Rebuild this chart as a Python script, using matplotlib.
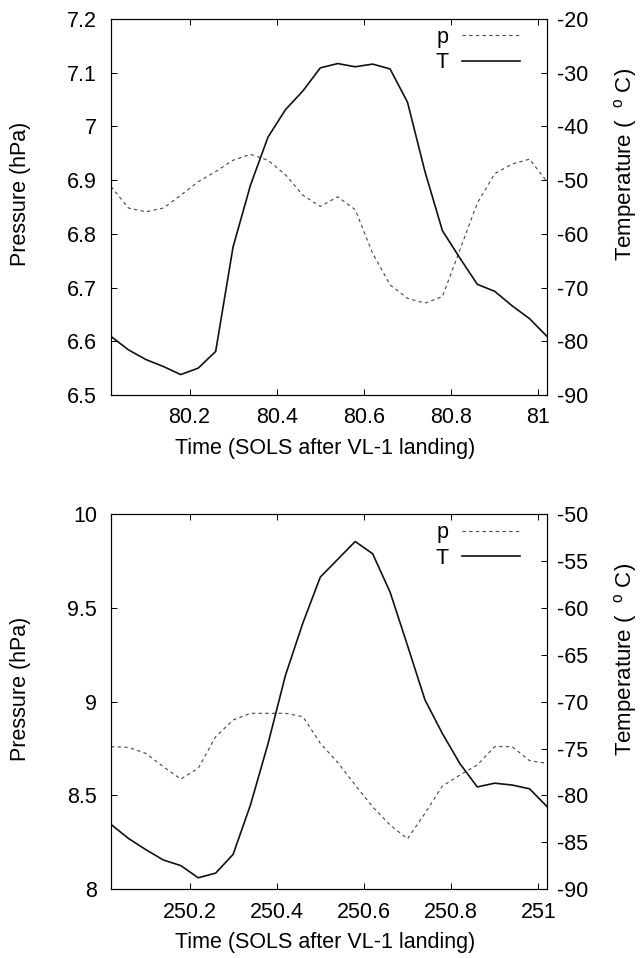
import numpy as np
import matplotlib
matplotlib.use("Agg")
import matplotlib.pyplot as plt
from matplotlib.ticker import FormatStrFormatter, FuncFormatter

plt.rcParams['font.family'] = ['Liberation Sans', 'DejaVu Sans']
plt.rcParams['mathtext.fontset'] = 'custom'
plt.rcParams['mathtext.rm'] = 'Liberation Sans'
plt.rcParams['mathtext.it'] = 'Liberation Sans'
plt.rcParams['axes.unicode_minus'] = False
plt.rcParams['font.size'] = 15.5

# sol 80 (top panel)
time_80 = [80.02, 80.06, 80.10, 80.14, 80.18, 80.22, 80.26, 80.30, 80.34, 80.38,
           80.42, 80.46, 80.50, 80.54, 80.58, 80.62, 80.66, 80.70, 80.74, 80.78,
           80.82, 80.86, 80.90, 80.94, 80.98, 81.02]
p_80 = [6.888, 6.848, 6.841, 6.848, 6.872, 6.897, 6.916, 6.937, 6.948, 6.937,
        6.910, 6.872, 6.851, 6.869, 6.845, 6.764, 6.705, 6.680, 6.671, 6.683,
        6.770, 6.857, 6.912, 6.930, 6.939, 6.897]
T_80 = [-79.1, -81.6, -83.4, -84.7, -86.2, -85.0, -81.9, -62.4, -50.9, -42.0,
        -36.9, -33.4, -29.1, -28.3, -28.9, -28.4, -29.3, -35.5, -48.4, -59.4,
        -64.5, -69.4, -70.7, -73.4, -75.8, -79.1]

# sol 250 (bottom panel)
time_250 = [250.02, 250.06, 250.10, 250.14, 250.18, 250.22, 250.26, 250.30, 250.34, 250.38,
            250.42, 250.46, 250.50, 250.54, 250.58, 250.62, 250.66, 250.70, 250.74, 250.78,
            250.82, 250.86, 250.90, 250.94, 250.98, 251.02]
p_250 = [8.760, 8.756, 8.724, 8.653, 8.587, 8.644, 8.813, 8.902, 8.938, 8.938,
         8.938, 8.920, 8.778, 8.675, 8.555, 8.439, 8.342, 8.268, 8.404, 8.550,
         8.608, 8.662, 8.760, 8.760, 8.685, 8.671]
T_250 = [-83.1, -84.6, -85.8, -86.9, -87.5, -88.8, -88.3, -86.3, -81.0, -74.5,
         -67.2, -61.6, -56.7, -54.8, -52.9, -54.2, -58.3, -64.0, -69.8, -73.4,
         -76.6, -79.1, -78.7, -78.9, -79.3, -81.2]

xticks_80 = [80.2, 80.4, 80.6, 80.8, 81]
xticks_250 = [250.2, 250.4, 250.6, 250.8, 251]

panels = [
    dict(t=time_80, p=p_80, T=T_80, xlim=(80.02, 81.02), xticks=xticks_80,
         plim=(6.5, 7.2), pticks=np.arange(6.5, 7.21, 0.1),
         Tlim=(-90, -20), Tticks=np.arange(-90, -19, 10),
         rect=[0.1732, 0.5877, 0.6802, 0.3925]),
    dict(t=time_250, p=p_250, T=T_250, xlim=(250.02, 251.02), xticks=xticks_250,
         plim=(8, 10), pticks=np.arange(8, 10.01, 0.5),
         Tlim=(-90, -50), Tticks=np.arange(-90, -49, 5),
         rect=[0.1732, 0.0720, 0.6802, 0.3911]),
]

fig = plt.figure(figsize=(6.41, 9.58), dpi=100)

for pn in panels:
    ax = fig.add_axes(pn['rect'])
    ax2 = ax.twinx()

    lp, = ax.plot(pn['t'], pn['p'], color='#444444', lw=0.8, dashes=(3.0, 3.0))
    lt, = ax2.plot(pn['t'], pn['T'], color='#111111', lw=1.2)

    ax.set_xlim(*pn['xlim'])
    ax.set_xticks(pn['xticks'])
    ax.xaxis.set_major_formatter(FuncFormatter(lambda v, pos: '%g' % round(v, 3)))
    ax.set_ylim(*pn['plim'])
    ax.set_yticks(pn['pticks'])
    ax.yaxis.set_major_formatter(FuncFormatter(lambda v, pos: '%g' % round(v, 3)))
    ax2.set_ylim(*pn['Tlim'])
    ax2.set_yticks(pn['Tticks'])
    ax2.yaxis.set_major_formatter(FormatStrFormatter('%d'))

    ax.tick_params(axis='x', direction='in', top=True, length=4, width=0.7, pad=9)
    ax.tick_params(axis='y', direction='in', right=False, length=4, width=0.7, pad=10)
    ax2.tick_params(axis='y', direction='in', length=4, width=0.7, pad=7)
    for a in (ax, ax2):
        for s in a.spines.values():
            s.set_linewidth(0.8)

    ax.set_xlabel('Time (SOLS after VL-1 landing)')
    ax.xaxis.set_label_coords(0.49, -0.115)
    ax.set_ylabel('Pressure (hPa)')
    ax.yaxis.set_label_coords(-0.183, 0.535)
    ax2.set_ylabel(r'Temperature (  $^{\rm o}$ C)', fontsize=16)
    ax2.yaxis.set_label_coords(1.148, 0.612)

    ax2.legend([lp, lt], ['p', 'T'], loc='upper right', bbox_to_anchor=(0.938, 0.979),
               frameon=False, markerfirst=False, handlelength=2.7, handletextpad=0.6,
               labelspacing=0.2, borderaxespad=0, borderpad=0)

fig.savefig('out.png', dpi=100)
